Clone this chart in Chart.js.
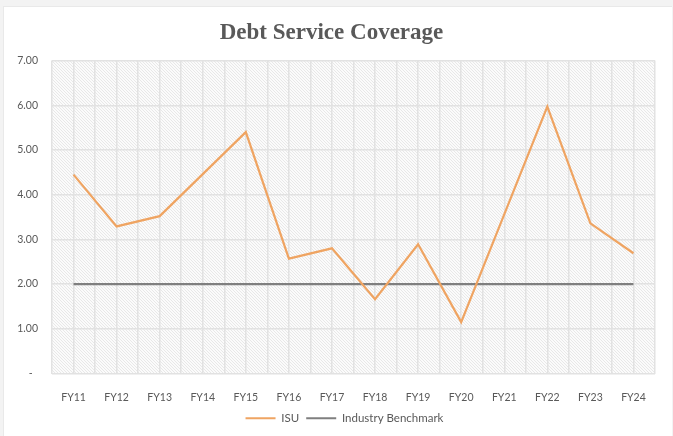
<!DOCTYPE html>
<html>
<head>
<meta charset="utf-8">
<script src="https://cdn.jsdelivr.net/npm/chart.js@4.4.0/dist/chart.umd.min.js"></script>
<style>
  html, body { margin: 0; padding: 0; background: #f3f3f3; }
  #frame {
    position: absolute; left: 3px; top: 6px; width: 668px; height: 430px;
    background: #ffffff; border-left: 1px solid #e9e9e9; border-top: 1px solid #e9e9e9;
  }
  #wrap { position: absolute; left: -4px; top: -7px; width: 673px; height: 436px; }
</style>
</head>
<body>
<div id="frame"><div id="wrap"><canvas id="chart" width="673" height="436"></canvas></div></div>
<script>
// Fiscal years on the horizontal axis
const fiscalYears = ['FY11','FY12','FY13','FY14','FY15','FY16','FY17','FY18','FY19','FY20','FY21','FY22','FY23','FY24'];
// Debt service coverage ratio, ISU
const isuCoverage = [4.45, 3.29, 3.52, 4.46, 5.40, 2.57, 2.80, 1.66, 2.89, 1.15, 3.56, 5.97, 3.36, 2.69];
// Industry benchmark ratio
const benchmarkCoverage = [2.00, 2.00, 2.00, 2.00, 2.00, 2.00, 2.00, 2.00, 2.00, 2.00, 2.00, 2.00, 2.00, 2.00];
// Value axis ticks
const yTicks = [0, 1, 2, 3, 4, 5, 6, 7];

const toPoints = arr => arr.map((v, i) => ({ x: i, y: v }));

// Fine diagonal hatch used as plot-area fill
function hatchPattern(ctx) {
  const tile = document.createElement('canvas');
  tile.width = 3; tile.height = 3;
  const t = tile.getContext('2d');
  t.fillStyle = '#fbfbfb';
  t.fillRect(0, 0, 3, 3);
  t.strokeStyle = '#e8e8e8';
  t.lineWidth = 1;
  t.beginPath();
  t.moveTo(-1, -1); t.lineTo(4, 4);
  t.stroke();
  return ctx.createPattern(tile, 'repeat');
}

const plotFill = {
  id: 'plotFill',
  beforeDraw(chart) {
    const { ctx, chartArea: a } = chart;
    ctx.save();
    ctx.fillStyle = hatchPattern(ctx);
    ctx.fillRect(a.left, a.top, a.right - a.left, a.bottom - a.top);
    ctx.restore();
  }
};

// Centre the legend under the plot rather than the whole canvas width
const legendShift = {
  id: 'legendShift',
  afterLayout(chart) {
    const lg = chart.legend;
    if (!lg) return;
    const dx = 13;
    lg.left += dx;
    lg.right += dx;
  }
};

const tickFont = { family: 'Lato', size: 10.5 };

new Chart(document.getElementById('chart'), {
  type: 'line',
  data: {
    datasets: [
      {
        label: 'ISU',
        data: toPoints(isuCoverage),
        borderColor: '#efa462',
        backgroundColor: '#efa462',
        borderWidth: 2.2,
        pointRadius: 0,
        tension: 0
      },
      {
        label: 'Industry Benchmark',
        data: toPoints(benchmarkCoverage),
        borderColor: '#7f7f7f',
        backgroundColor: '#7f7f7f',
        borderWidth: 2.2,
        pointRadius: 0,
        tension: 0
      }
    ]
  },
  plugins: [plotFill, legendShift],
  options: {
    responsive: false,
    animation: false,
    layout: { padding: { left: 0, right: 10, top: 0, bottom: 2 } },
    plugins: {
      title: {
        display: true,
        text: 'Debt Service Coverage',
        color: '#595959',
        font: { family: 'Liberation Serif', size: 23, weight: 'bold' },
        padding: { top: 19, bottom: 14 }
      },
      legend: {
        position: 'bottom',
        labels: {
          usePointStyle: true,
          pointStyle: 'line',
          pointStyleWidth: 30,
          boxHeight: 2,
          color: '#595959',
          font: { family: 'Lato', size: 11.5 },
          padding: 7
        }
      },
      tooltip: { enabled: false }
    },
    scales: {
      x: {
        type: 'linear',
        min: -0.5,
        max: fiscalYears.length - 0.5,
        afterBuildTicks(scale) {
          const ticks = [];
          for (let v = -0.5; v <= fiscalYears.length - 0.5 + 1e-9; v += 0.5) ticks.push({ value: v });
          scale.ticks = ticks;
        },
        afterFit(scale) { scale.height = 32; },
        ticks: {
          autoSkip: false,
          maxRotation: 0,
          color: '#595959',
          font: tickFont,
          padding: 18,
          callback: v => Number.isInteger(v) ? fiscalYears[v] : ''
        },
        grid: { color: '#e2e2e2', lineWidth: 1.5, drawTicks: false },
        border: { display: false }
      },
      y: {
        min: 0,
        max: 7,
        afterBuildTicks(scale) { scale.ticks = yTicks.map(v => ({ value: v })); },
        afterFit(scale) { scale.width = 52; },
        ticks: {
          color: '#595959',
          font: tickFont,
          padding: 14,
          callback: v => v === 0 ? '-  ' : v.toFixed(2)
        },
        grid: { color: '#e2e2e2', lineWidth: 1.5, drawTicks: false },
        border: { display: false }
      }
    }
  }
});
</script>
</body>
</html>
